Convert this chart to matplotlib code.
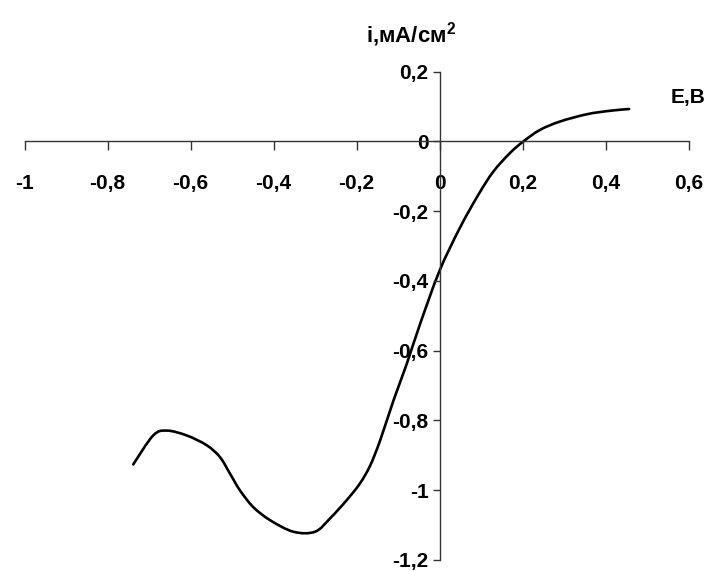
import matplotlib
matplotlib.use("Agg")
import matplotlib.pyplot as plt
from matplotlib.ticker import FixedLocator, FuncFormatter
from matplotlib.path import Path
from matplotlib.patches import PathPatch

# Data
E = [-0.738, -0.690, -0.657, -0.609, -0.561, -0.529, -0.505, -0.481, -0.449,
     -0.408, -0.352, -0.300, -0.264, -0.224, -0.192, -0.167, -0.143, -0.111,
     -0.079, -0.047, 0.000, 0.049, 0.094, 0.130, 0.170, 0.202, 0.242, 0.290,
     0.355, 0.411, 0.457]
I = [-0.926, -0.843, -0.829, -0.843, -0.871, -0.905, -0.952, -1.000, -1.048,
     -1.086, -1.119, -1.119, -1.081, -1.029, -0.981, -0.929, -0.857, -0.743,
     -0.638, -0.524, -0.371, -0.248, -0.152, -0.086, -0.033, 0.000, 0.033, 0.057,
     0.078, 0.088, 0.093]

x_ticks = [-1, -0.8, -0.6, -0.4, -0.2, 0, 0.2, 0.4, 0.6]
y_ticks = [-1.2, -1, -0.8, -0.6, -0.4, -0.2, 0, 0.2]
x_label = "E,B"
y_label = "i,мА/см$^{2}$"

plt.rcParams['font.family'] = ['Liberation Sans', 'DejaVu Sans']
plt.rcParams['axes.unicode_minus'] = False
plt.rcParams['mathtext.fontset'] = 'custom'
plt.rcParams['mathtext.rm'] = 'Liberation Sans:bold'
plt.rcParams['mathtext.it'] = 'Liberation Sans:bold'
plt.rcParams['mathtext.bf'] = 'Liberation Sans:bold'

fig = plt.figure(figsize=(7.07, 5.71), dpi=100)
ax = fig.add_axes([24.5 / 707, 11 / 571, 664 / 707, 488.3 / 571])

# smooth line through the data points (Catmull-Rom as cubic Bezier, like a smoothed spreadsheet line)
pts = list(zip(E, I))
verts = [pts[0]]
codes = [Path.MOVETO]
n = len(pts)
for k in range(n - 1):
    p0 = pts[k - 1] if k > 0 else pts[k]
    p1 = pts[k]
    p2 = pts[k + 1]
    p3 = pts[k + 2] if k + 2 < n else pts[k + 1]
    c1 = (p1[0] + (p2[0] - p0[0]) / 6, p1[1] + (p2[1] - p0[1]) / 6)
    c2 = (p2[0] - (p3[0] - p1[0]) / 6, p2[1] - (p3[1] - p1[1]) / 6)
    verts += [c1, c2, p2]
    codes += [Path.CURVE4] * 3
ax.add_patch(PathPatch(Path(verts, codes), fill=False, edgecolor='black', lw=1.9,
                       joinstyle='round', capstyle='round'))

ax.set_xlim(-1, 0.6)
ax.set_ylim(-1.2, 0.2)

for s in ('top', 'right'):
    ax.spines[s].set_visible(False)
ax.spines['left'].set_position(('data', 0))
ax.spines['bottom'].set_position(('data', 0))
for s in ('left', 'bottom'):
    ax.spines[s].set_color('#333333')
    ax.spines[s].set_linewidth(1.0)

fmt = FuncFormatter(lambda v, p: f"{v:g}".replace('.', ','))
ax.xaxis.set_major_locator(FixedLocator(x_ticks))
ax.yaxis.set_major_locator(FixedLocator(y_ticks))
ax.xaxis.set_major_formatter(fmt)
ax.yaxis.set_major_formatter(fmt)

ax.tick_params(axis='x', direction='out', length=6.5, width=1.0, color='#333333',
               pad=17, labelsize=15)
ax.tick_params(axis='y', direction='out', length=5, width=1.0, color='#333333',
               pad=3, labelsize=15)
for lab in ax.get_xticklabels() + ax.get_yticklabels():
    lab.set_fontweight('bold')

ax.patch.set_visible(False)

fig.text(366 / 707, 1 - 42 / 571, y_label, ha='left', va='baseline',
         fontsize=16, fontweight='bold')
fig.text(705 / 707, 1 - 97 / 571, x_label, ha='right', va='center',
         fontsize=15, fontweight='bold')

fig.savefig('out.png', dpi=100, facecolor='white')
